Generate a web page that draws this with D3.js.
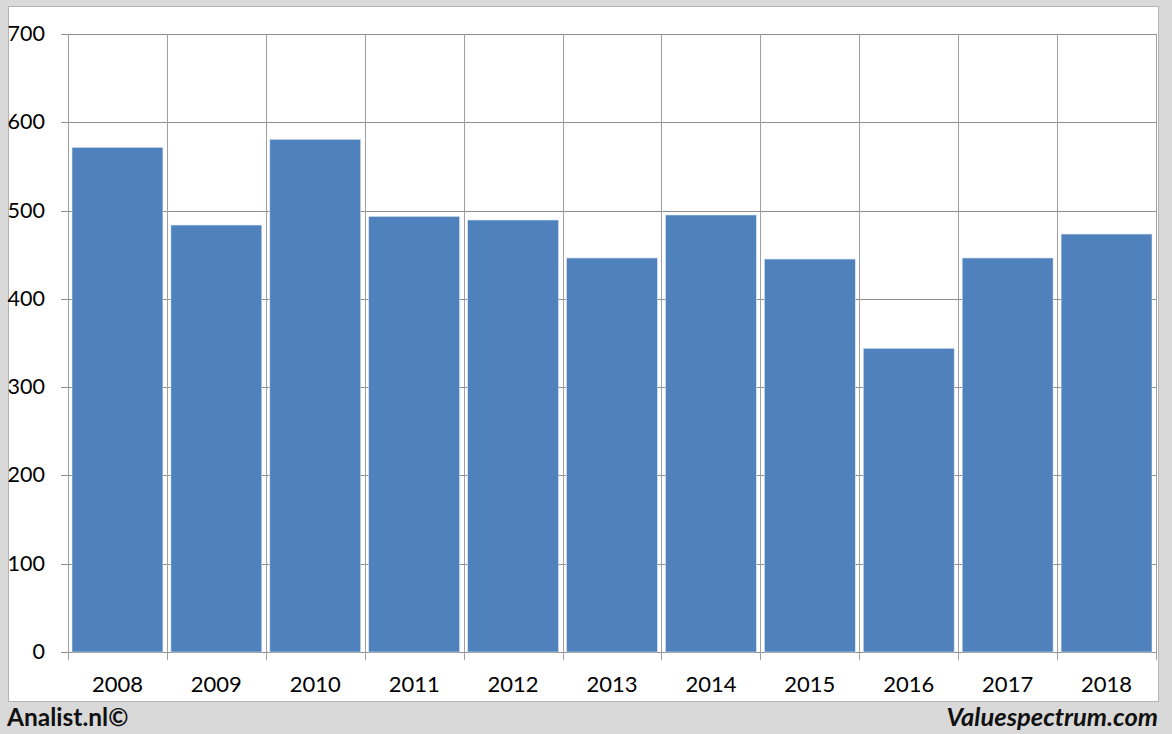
<!DOCTYPE html>
<html>
<head>
<meta charset="utf-8">
<script src="https://cdn.jsdelivr.net/npm/d3@7"></script>
<style>
  html, body { margin: 0; padding: 0; background: #d9d9d9; }
  svg { display: block; }
  text { font-family: Lato, "Noto Sans", sans-serif; }
</style>
</head>
<body>
<svg id="chart" width="1172" height="734"></svg>
<script>
const categories = ["2008","2009","2010","2011","2012","2013","2014","2015","2016","2017","2018"];
const values = [571.6, 483.6, 580.7, 493.4, 489.3, 446.3, 495, 445.1, 344, 446.3, 473.4];
const yTicks = [0, 100, 200, 300, 400, 500, 600, 700];
const leftCredit = "Analist.nl©";
const rightCredit = "Valuespectrum.com";

const W = 1172, H = 734;
const plot = { left: 68, right: 1156, top: 34, bottom: 652 };
const svg = d3.select("#chart");

// background and white panel
svg.append("rect").attr("x", 0).attr("y", 0).attr("width", W).attr("height", H).attr("fill", "#d9d9d9");
svg.append("rect").attr("x", 8.5).attr("y", 6.5).attr("width", 1150).attr("height", 695)
  .attr("fill", "#ffffff").attr("stroke", "#b4b4b4").attr("stroke-width", 1);

const xb = d3.scaleBand().domain(categories).range([plot.left, plot.right]).padding(0);
const y = d3.scaleLinear().domain([0, 700]).range([plot.bottom, plot.top]);

const grid = svg.append("g");
// horizontal gridlines + tick stubs
grid.selectAll("line.h").data(yTicks).enter().append("line")
  .attr("x1", plot.left - 7).attr("x2", plot.right)
  .attr("y1", d => Math.round(y(d)) + 0.5).attr("y2", d => Math.round(y(d)) + 0.5)
  .attr("stroke", "#8e8e8e").attr("stroke-width", 1);
// vertical gridlines at category boundaries
const bounds = categories.map(c => xb(c)).concat([plot.right]);
grid.selectAll("line.v").data(bounds).enter().append("line")
  .attr("x1", d => Math.round(d) + 0.5).attr("x2", d => Math.round(d) + 0.5)
  .attr("y1", plot.top).attr("y2", plot.bottom + 8)
  .attr("stroke", "#a0a0a0").attr("stroke-width", 1);

// bars
svg.append("g").selectAll("rect").data(categories).enter().append("rect")
  .attr("x", d => xb(d) + 4)
  .attr("width", xb.bandwidth() - 8)
  .attr("y", (d, i) => y(values[i]))
  .attr("height", (d, i) => y(0) - y(values[i]))
  .attr("fill", "#4f81bd")
  .attr("stroke", "#dbe6f2").attr("stroke-width", 0.6);

// y labels
svg.append("g").selectAll("text").data(yTicks).enter().append("text")
  .attr("x", 45).attr("y", d => y(d) + 7)
  .attr("text-anchor", "end").attr("font-size", 21.5).attr("fill", "#000")
  .text(d => d);

// x labels
svg.append("g").selectAll("text").data(categories).enter().append("text")
  .attr("x", d => xb(d) + xb.bandwidth() / 2).attr("y", 692)
  .attr("text-anchor", "middle").attr("font-size", 22).attr("fill", "#000")
  .text(d => d);

// credits
svg.append("text").attr("x", 7).attr("y", 726)
  .attr("font-size", 24.5).attr("font-weight", "bold").attr("fill", "#111")
  .text(leftCredit);
svg.append("text").attr("x", 1158).attr("y", 726)
  .attr("text-anchor", "end").attr("font-size", 25.5).attr("font-weight", "bold").attr("font-style", "italic").attr("fill", "#111")
  .text(rightCredit);
</script>
</body>
</html>
